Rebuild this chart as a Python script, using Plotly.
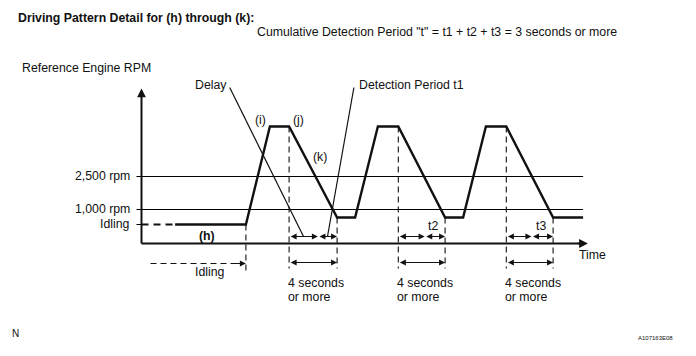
import plotly.graph_objects as go

# ---- data (time in s, level in schematic RPM units) ----
trace_t = [2.8, 8.7, 10.7, 12.3, 16.3, 17.8, 19.7, 21.4, 25.3, 26.8, 28.7, 30.4, 34.3, 36.8]
trace_lv = [19, 19, 117, 117, 26, 26, 117, 117, 26, 26, 117, 117, 26, 26]
idle_dash_t = [0, 2.8]
idle_level = 19
tick_labels = ["2,500 rpm", "1,000 rpm", "Idling"]
tick_levels = [67, 34, 19]
grid_levels = [67, 34]
grid_end = 36.8
axis_top = 155
time_end = 37.2
decel_start = [12.3, 21.4, 30.4]
decel_end = [16.3, 25.3, 34.3]
detect_mark = [14.7, 23.6, 32.5]
period_labels = ["t2", "t3"]
idle_end = 8.7

BLACK = "#111111"
fig = go.Figure()

def line(xs, ys, w=1.2, dash=None, color=BLACK):
    fig.add_trace(go.Scatter(x=xs, y=ys, mode="lines", hoverinfo="skip", showlegend=False,
                             line=dict(color=color, width=w, dash=dash)))

# grid lines
for lv in grid_levels:
    line([0, grid_end], [lv, lv], w=1, color="#000000")
# tick marks
for lv in tick_levels:
    line([-0.42, 0], [lv, lv], w=1, color="#000000")
# idle dashed start
line(idle_dash_t, [idle_level, idle_level], w=2, dash="7px,5px")
# main pattern
line(trace_t, trace_lv, w=2.4)

# vertical dashed guides
line([idle_end, idle_end], [idle_level, -30], w=1.1, dash="6px,4px")
for a, b in zip(decel_start, decel_end):
    line([a, a], [117, -25], w=1.1, dash="6px,4px")
    line([b, b], [26, -25], w=1.1, dash="6px,4px")

# leader lines
line([7.35, 13.5], [156, 7], w=1.2)
line([17.7, 15.5], [156, 7], w=1.2)

# axes
line([0, 0], [0, axis_top - 4], w=2)
line([0, time_end - 0.3], [0, 0], w=2)

def arrow(x0, y0, x1, y1, side="end", w=1.1):
    fig.add_annotation(x=x1, y=y1, ax=x0, ay=y0, xref="x", yref="y", axref="x", ayref="y",
                       text="", showarrow=True, arrowhead=2, arrowsize=1.1, arrowwidth=w,
                       arrowcolor=BLACK, arrowside=side, standoff=0, startstandoff=0)

arrow(0, axis_top - 6, 0, axis_top, w=1.6)
arrow(time_end - 1, 0, time_end, 0, w=1.6)
for a, m, b in zip(decel_start, detect_mark, decel_end):
    arrow(a, 7, m, 7, side="end+start")
    arrow(m, 7, b, 7, side="end+start")
    arrow(a, -19, b, -19, side="end+start")
# idling dashed arrow
line([0.75, idle_end - 0.4], [-20, -20], w=1.1, dash="6px,4px")
arrow(idle_end - 1, -20, idle_end, -20)

# text
FONT = "Liberation Sans, Arial, sans-serif"
def txt(px, py, s, size=12.3, anchor="left", bold=False):
    fig.add_annotation(x=px / 696, y=1 - py / 356, xref="paper", yref="paper", text=f"<b>{s}</b>" if bold else s,
                       showarrow=False, xanchor=anchor, yanchor="middle",
                       font=dict(family=FONT, size=size, color=BLACK))

txt(16, 18, "Driving Pattern Detail for (h) through (k):", bold=True)
txt(255, 32, "Cumulative Detection Period \"t\" = t1 + t2 + t3 = 3 seconds or more")
txt(20, 68, "Reference Engine RPM")
txt(193, 85, "Delay")
txt(357, 85, "Detection Period t1")
txt(260, 120, "(i)", anchor="center")
txt(298, 120, "(j)", anchor="center")
txt(320, 157, "(k)", anchor="center")
for s, lv in zip(tick_labels, tick_levels):
    txt(132, 243 - lv, s, anchor="right")
txt(207, 236, "(h)", anchor="center", bold=True)
txt(210, 272, "Idling", anchor="center")
for a in decel_start:
    px = 141 + a * 12
    txt(px - 3, 283, "4 seconds")
    txt(px - 3, 297, "or more")
for s, m, b in zip(period_labels, detect_mark[1:], decel_end[1:]):
    txt(141 + (m + b) / 2 * 12 - 1, 226, s, anchor="center")
txt(577, 255, "Time")
txt(10, 333, "N", size=10)
txt(655, 338, "A107163E08", size=6, anchor="center")

fig.update_layout(width=696, height=356, margin=dict(l=0, r=0, t=0, b=0),
                  paper_bgcolor="white", plot_bgcolor="white",
                  xaxis=dict(range=[-141.5 / 12, 554.5 / 12], visible=False, fixedrange=True),
                  yaxis=dict(range=[-112.5, 243.5], visible=False, fixedrange=True))
fig.write_html("out.html", config={"displayModeBar": False},
               post_script="document.body.style.margin='0';document.body.style.overflow='hidden';")
